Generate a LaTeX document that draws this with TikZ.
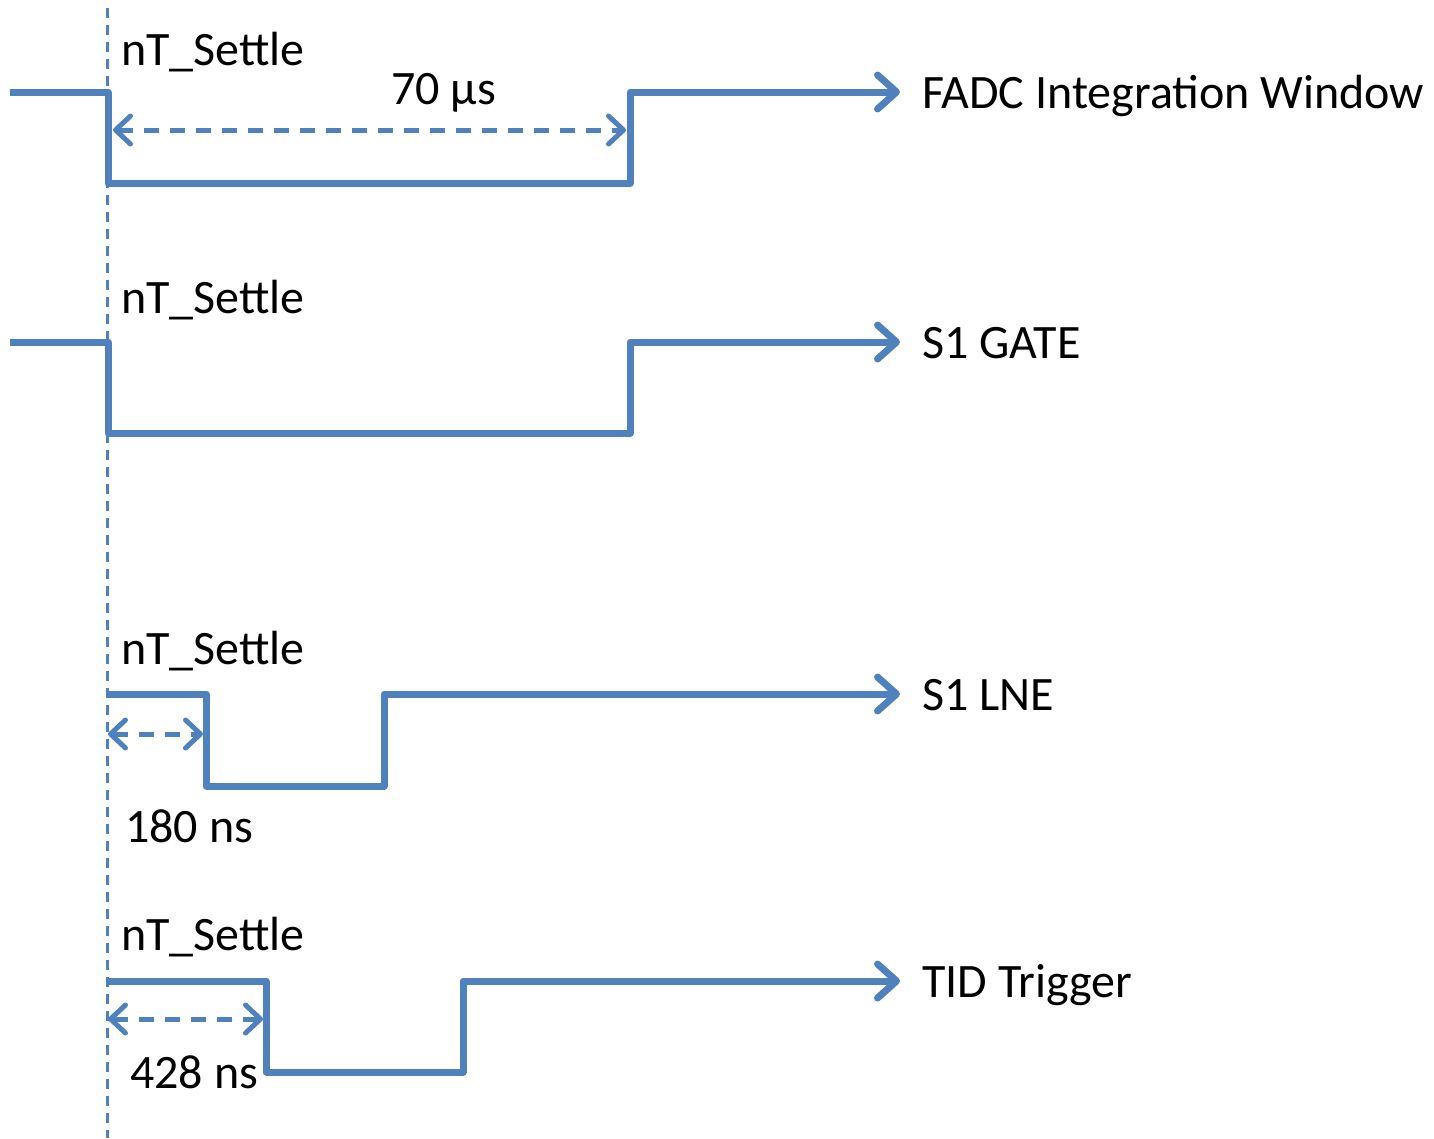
\documentclass[tikz,border=0pt]{standalone}
\usepackage{fontspec}
\setmainfont{Carlito}
\usetikzlibrary{arrows.meta}
\definecolor{wave}{HTML}{4F81BD}

\begin{document}
\begin{tikzpicture}[
            x = 1pt, y = -1pt, % one unit = one pixel, downwards
            line join = round,
            signal/.style = {draw = wave, line width = 7pt, -{Straight Barb[length=19pt,width=34pt,round]}},
            span/.style = {draw = wave, line width = 5pt, dash pattern = on 15pt off 11pt,
                           {Straight Barb[length=15pt,width=28pt,round]}-{Straight Barb[length=15pt,width=28pt,round]}},
            settle/.style = {draw = wave, line width = 3pt, dash pattern = on 10pt off 7pt}
        ]

        \tikzstyle{every node}=[
        inner sep = 0pt,
        anchor = base west,
        font = \fontsize{48}{56}\selectfont
        ]

        \useasboundingbox (0,0) rectangle (1434,1138);

        % settle marker
        \coordinate (top) at (107,8);
        \coordinate (bottom) at (107,1138);
        \draw[settle] (top) -- (bottom);

        % FADC integration window
        \node (set1) at (121,65) {nT\_Settle};
        \node (us70) at (391,104) {70 µs};
        \node (fadc) at (922,108) {FADC Integration Window};
        \coordinate (fadcin) at (10,92);
        \coordinate (fadcdn) at (108,183);
        \coordinate (fadcup) at (630,92);
        \coordinate (fadcend) at (900,92);
        \draw[signal] (fadcin) -| (fadcdn) -| (fadcup) -- (fadcend);
        \coordinate (spana) at (113,130);
        \coordinate (spanb) at (626,130);
        \draw[span] (spana) -- (spanb);

        % S1 gate
        \node (set2) at (121,313) {nT\_Settle};
        \node (gate) at (922,358) {S1 GATE};
        \coordinate (gatein) at (10,342);
        \coordinate (gatedn) at (108,433);
        \coordinate (gateup) at (630,342);
        \coordinate (gateend) at (900,342);
        \draw[signal] (gatein) -| (gatedn) -| (gateup) -- (gateend);

        % S1 LNE
        \node (set3) at (121,664) {nT\_Settle};
        \node (ns180) at (125,842) {180 ns};
        \node (lne) at (922,710) {S1 LNE};
        \coordinate (lnein) at (107,694);
        \coordinate (lnedn) at (206,786);
        \coordinate (lneup) at (384,694);
        \coordinate (lneend) at (900,694);
        \draw[signal] (lnein) -| (lnedn) -| (lneup) -- (lneend);
        \coordinate (spanc) at (108,734);
        \coordinate (spand) at (203,734);
        \draw[span] (spanc) -- (spand);

        % TID trigger
        \node (set4) at (121,950) {nT\_Settle};
        \node (ns428) at (130,1088) {428 ns};
        \node (tid) at (922,997) {TID Trigger};
        \coordinate (tidin) at (107,981);
        \coordinate (tiddn) at (266,1072);
        \coordinate (tidup) at (463,981);
        \coordinate (tidend) at (900,981);
        \draw[signal] (tidin) -| (tiddn) -| (tidup) -- (tidend);
        \coordinate (spane) at (108,1019);
        \coordinate (spanf) at (263,1019);
        \draw[span] (spane) -- (spanf);
    \end{tikzpicture}
\end{document}
